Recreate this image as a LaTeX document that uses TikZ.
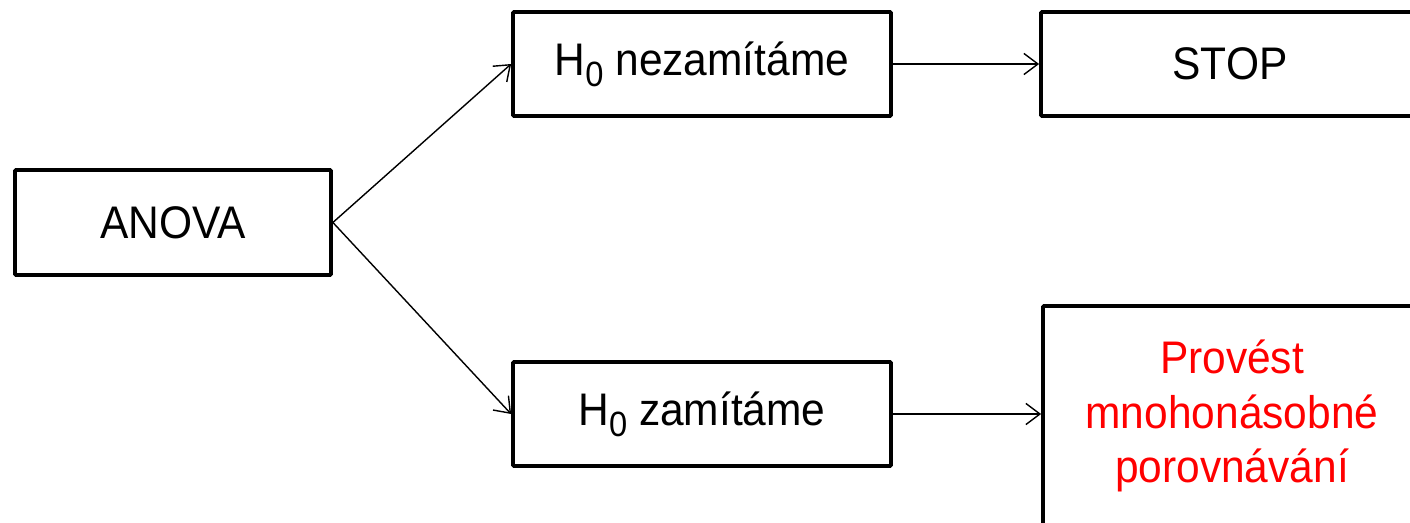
\documentclass[tikz,border=0pt]{standalone}
\usepackage{fontspec}
\setmainfont{Liberation Sans}[FakeStretch=0.93]
\usepackage{xcolor}
\usetikzlibrary{arrows.meta,
	calc,
	positioning}

\newcommand{\Hnull}{H\raisebox{-0.45ex}{\fontsize{20}{20}\selectfont 0}}

\begin{document}
\begin{tikzpicture}[x=0.02cm, y=-0.02cm,
		box/.style={draw, line width=2.2pt, rounded corners=0.6pt, minimum width=7.56cm, minimum height=2.08cm, align=center, font=\fontsize{26}{31}\selectfont},
		arr/.style={line width=0.8pt, -{Straight Barb[length=8pt, width=12pt, line width=0.8pt]}}]
	\useasboundingbox (0, 0) rectangle (1410, 523);
	\clip (0, 0) rectangle (1410, 523);
	\node[box, minimum width=6.32cm, minimum height=2.1cm] (anova) at (173, 222.5) {ANOVA};
	\node[box] (nezam) at (702, 64) {\Hnull{} nezamítáme};
	\node[box] (zam) at (702, 414) {\Hnull{} zamítáme};
	\node[box] (stop) at (1230, 64) {STOP};
	\node[box, minimum height=4.4cm, text=red] (porov) at (1232, 416) {Provést\\mnohonásobné\\porovnávání};
	\draw[arr] (anova.east) -- (nezam.west);
	\draw[arr] (anova.east) -- (zam.west);
	\draw[arr] (nezam.east) -- (stop.west);
	\draw[arr] (zam.east) -- (zam.east -| porov.west);
\end{tikzpicture}
\end{document}
